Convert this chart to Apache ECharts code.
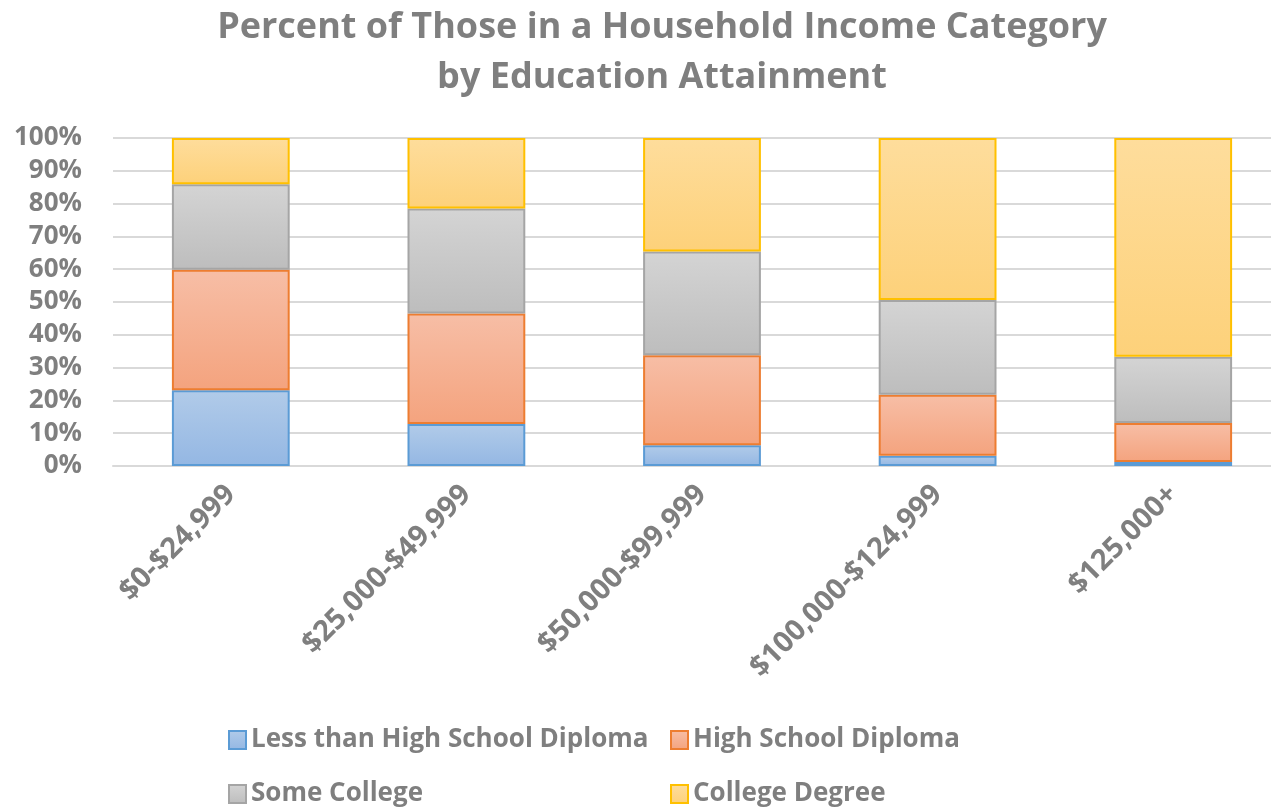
<!DOCTYPE html>
<html>
<head>
<meta charset="utf-8">
<script src="https://cdn.jsdelivr.net/npm/echarts@6/dist/echarts.min.js"></script>
<style>
  html, body { margin: 0; padding: 0; background: #fff; overflow: hidden; }
  #chart { width: 1291px; height: 809px; }
</style>
</head>
<body>
<div id="chart"></div>
<script>
// Household income brackets
const categories = ['$0-$24,999', '$25,000-$49,999', '$50,000-$99,999', '$100,000-$124,999', '$125,000+'];

// Share (%) of each bracket by education attainment
const lessThanHS = [23.1, 12.8, 6.3, 3.1, 1.2];
const highSchool = [36.7, 33.7, 27.5, 18.6, 11.9];
const someCollege = [26.1, 32.0, 31.6, 28.9, 20.2];
const collegeDegree = [14.1, 21.5, 34.6, 49.4, 66.7];

const seriesNames = ['Less than High School Diploma', 'High School Diploma', 'Some College', 'College Degree'];
const yTicks = [0, 10, 20, 30, 40, 50, 60, 70, 80, 90, 100];

const FONT = 'Open Sans';
const GREY = '#7f7f7f';

function grad(top, bottom) {
  return { type: 'linear', x: 0, y: 0, x2: 0, y2: 1,
    colorStops: [{ offset: 0, color: top }, { offset: 1, color: bottom }] };
}

const styles = [
  { fill: grad('#b1cbe9', '#94b7e3'), border: '#5b9bd5' },
  { fill: grad('#f7bea6', '#f4a37e'), border: '#ed7d31' },
  { fill: grad('#d4d4d4', '#bdbdbd'), border: '#a5a5a5' },
  { fill: grad('#fedd9c', '#fdd17a'), border: '#ffc000' }
];
const values = [lessThanHS, highSchool, someCollege, collegeDegree];

const chart = echarts.init(document.getElementById('chart'), null, { renderer: 'canvas' });

const legendText = { color: GREY, fontFamily: FONT, fontWeight: 'bold', fontSize: 26 };
// Legend laid out as a 2 x 2 block: [left, top] of each entry
const legendSpots = [[228, 727], [670, 727], [228, 781], [670, 781]];

chart.setOption({
  animation: false,
  backgroundColor: '#fff',
  title: {
    text: 'Percent of Those in a Household Income Category\nby Education Attainment',
    left: 657, top: -2, textAlign: 'center',
    textStyle: { color: GREY, fontFamily: FONT, fontWeight: 'bold', fontSize: 36, lineHeight: 50 }
  },
  legend: seriesNames.map((name, i) => ({
    data: [name], left: legendSpots[i][0], top: legendSpots[i][1], padding: 0,
    itemWidth: 17, itemHeight: 18, itemGap: 0, textStyle: legendText, icon: 'rect'
  })),
  grid: { left: 113, top: 138, width: 1178, height: 328, containLabel: false },
  xAxis: {
    type: 'category', data: categories,
    axisLine: { show: true, lineStyle: { color: '#d9d9d9', width: 2 } },
    axisTick: { show: false },
    axisLabel: { rotate: 45, interval: 0, margin: 24, color: GREY, fontFamily: FONT,
      fontWeight: 'bold', fontSize: 29 }
  },
  yAxis: {
    type: 'value', min: 0, max: 100, interval: 10,
    axisLine: { show: false }, axisTick: { show: false },
    splitLine: { lineStyle: { color: '#d9d9d9', width: 2 } },
    axisLabel: { color: GREY, fontFamily: FONT, fontWeight: 'bold', fontSize: 26, margin: 31,
      formatter: v => yTicks.includes(v) ? v + '%' : '' }
  },
  series: values.map((vals, i) => ({
    name: seriesNames[i], type: 'bar', stack: 'total', barWidth: '50%',
    data: vals,
    itemStyle: { color: styles[i].fill, borderColor: styles[i].border, borderWidth: 2 }
  }))
});
</script>
</body>
</html>
